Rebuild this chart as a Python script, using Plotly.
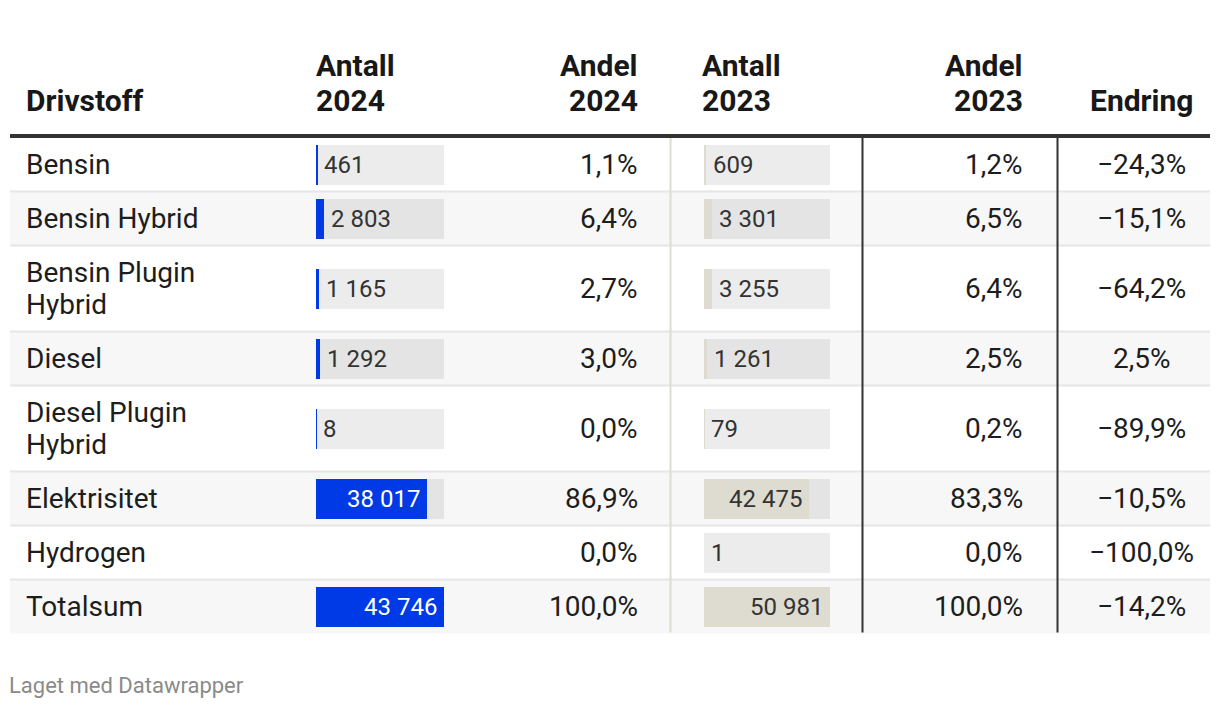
import plotly.graph_objects as go

# ---------------- data ----------------
fuel = ["Bensin", "Bensin Hybrid", "Bensin Plugin Hybrid", "Diesel",
        "Diesel Plugin Hybrid", "Elektrisitet", "Hydrogen", "Totalsum"]
antall_2024 = [461, 2803, 1165, 1292, 8, 38017, None, 43746]
andel_2024 = [1.1, 6.4, 2.7, 3.0, 0.0, 86.9, 0.0, 100.0]
antall_2023 = [609, 3301, 3255, 1261, 79, 42475, 1, 50981]
andel_2023 = [1.2, 6.5, 6.4, 2.5, 0.2, 83.3, 0.0, 100.0]
endring = [-24.3, -15.1, -64.2, 2.5, -89.9, -10.5, -100.0, -14.2]
headers = [["Drivstoff"], ["Antall", "2024"], ["Andel", "2024"],
           ["Antall", "2023"], ["Andel", "2023"], ["Endring"]]

# ---------------- style / layout ----------------
W, H = 1220, 708
FONT = "Roboto, Arial, sans-serif"
TXT = "#1d1d1d"
BLUE = "#0039e6"
BEIGE = "#dedbd1"
TRACK = "rgba(0,0,0,0.075)"
STRIPE = "#f7f7f7"
SEP = "#e6e6e6"
DARK = "#333333"

def wrap(name, maxlen=14):
    words, lines, cur = name.split(), [], ""
    for w in words:
        if cur and len(cur) + 1 + len(w) > maxlen:
            lines.append(cur)
            cur = w
        else:
            cur = (cur + " " + w).strip()
    lines.append(cur)
    return lines

def fmt_int(v):
    return f"{v:,}".replace(",", " ")

def fmt_pct(v):
    s = f"{abs(v):.1f}".replace(".", ",") + "%"
    return ("\u2212" + s) if (v < 0) else s

wrapped = [wrap(f) for f in fuel]
row_h = [54 if len(w) == 1 else 86 for w in wrapped]
top = 137.5
edges = [top]
for h in row_h:
    edges.append(edges[-1] + h)
centers = [(edges[i] + edges[i + 1]) / 2 for i in range(len(fuel))]

def px(x):
    return x / W

fig = go.Figure()

max24 = max(v for v in antall_2024 if v is not None)
max23 = max(v for v in antall_2023 if v is not None)

# tracks + bars
fig.add_trace(go.Bar(
    y=[c for c, v in zip(centers, antall_2024) if v is not None],
    x=[max24 for v in antall_2024 if v is not None],
    orientation="h", width=40, marker=dict(color=TRACK, line=dict(width=0)),
    xaxis="x", yaxis="y", hoverinfo="skip", showlegend=False))
fig.add_trace(go.Bar(
    y=[c for c, v in zip(centers, antall_2024) if v is not None],
    x=[v for v in antall_2024 if v is not None],
    orientation="h", width=40, marker=dict(color=BLUE, line=dict(width=0)),
    xaxis="x", yaxis="y", hoverinfo="skip", showlegend=False))
fig.add_trace(go.Bar(
    y=centers, x=[max23] * len(antall_2023),
    orientation="h", width=40, marker=dict(color=TRACK, line=dict(width=0)),
    xaxis="x2", yaxis="y", hoverinfo="skip", showlegend=False))
fig.add_trace(go.Bar(
    y=centers, x=antall_2023,
    orientation="h", width=40, marker=dict(color=BEIGE, line=dict(width=0)),
    xaxis="x2", yaxis="y", hoverinfo="skip", showlegend=False))

shapes = []
for i in range(len(fuel)):
    if i % 2 == 1:
        shapes.append(dict(type="rect", xref="paper", yref="y", x0=px(10), x1=px(1210),
                           y0=edges[i], y1=edges[i + 1], fillcolor=STRIPE,
                           line=dict(width=0), layer="below"))
for e in edges[1:-1]:
    shapes.append(dict(type="line", xref="paper", yref="y", x0=px(10), x1=px(1210),
                       y0=e, y1=e, line=dict(color=SEP, width=2), layer="below"))
for xv, col in [(670.5, BEIGE), (862.5, DARK), (1057.5, DARK)]:
    shapes.append(dict(type="line", xref="paper", yref="y", x0=px(xv), x1=px(xv),
                       y0=edges[0], y1=edges[-1] - 1, line=dict(color=col, width=2), layer="below"))
shapes.append(dict(type="line", xref="paper", yref="y", x0=px(10), x1=px(1210),
                   y0=136, y1=136, line=dict(color=DARK, width=4), layer="above"))

ann = []
HF = dict(family=FONT, size=30, color="#181818", weight="bold")
BF = dict(family=FONT, size=28, color=TXT)
LF = dict(family=FONT, size=24, color="#333333")

hpos = [(24, "left"), (314, "left"), (640, "right"), (700, "left"), (1025, "right"), (1141, "center")]
for hl, (hx, anc) in zip(headers, hpos):
    ys = [100] if len(hl) == 1 else [65, 100]
    for t, yy in zip(hl, ys):
        ann.append(dict(xref="paper", yref="y", x=px(hx), y=yy, text=f"<b>{t}</b>",
                        xanchor=anc, yanchor="middle", showarrow=False, font=HF))

for i in range(len(fuel)):
    c = centers[i]
    lines = wrapped[i]
    n = len(lines)
    for k, ln in enumerate(lines):
        yy = c + (k - (n - 1) / 2) * 32
        ann.append(dict(xref="paper", yref="y", x=px(24), y=yy, text=ln,
                        xanchor="left", yanchor="middle", showarrow=False, font=BF))
    ann.append(dict(xref="paper", yref="y", x=px(640), y=c, text=fmt_pct(andel_2024[i]),
                    xanchor="right", yanchor="middle", showarrow=False, font=BF))
    ann.append(dict(xref="paper", yref="y", x=px(1025), y=c, text=fmt_pct(andel_2023[i]),
                    xanchor="right", yanchor="middle", showarrow=False, font=BF))
    ann.append(dict(xref="paper", yref="y", x=px(1141.5), y=c, text=fmt_pct(endring[i]),
                    xanchor="center", yanchor="middle", showarrow=False, font=BF))
    for vals, mx, xr, inside_col in [(antall_2024, max24, "x", "#ffffff"),
                                     (antall_2023, max23, "x2", "#333333")]:
        v = vals[i]
        if v is None:
            continue
        if v / mx > 0.5:
            ann.append(dict(xref=xr, yref="y", x=v, y=c, text=fmt_int(v), xanchor="right",
                            xshift=-5, yanchor="middle", showarrow=False,
                            font=dict(family=FONT, size=24, color=inside_col)))
        else:
            ann.append(dict(xref=xr, yref="y", x=v, y=c, text=fmt_int(v), xanchor="left",
                            xshift=5, yanchor="middle", showarrow=False, font=LF))

ann.append(dict(xref="paper", yref="paper", x=px(7), y=1 - 685 / H, text="Laget med Datawrapper",
                xanchor="left", yanchor="middle", showarrow=False,
                font=dict(family=FONT, size=22, color="#8a8a8a")))

fig.update_layout(
    width=W, height=H, margin=dict(l=0, r=0, t=0, b=0),
    paper_bgcolor="white", plot_bgcolor="rgba(0,0,0,0)",
    barmode="overlay", bargap=0, showlegend=False,
    xaxis=dict(domain=[px(316), px(444)], range=[0, max24], visible=False, fixedrange=True),
    xaxis2=dict(domain=[px(704), px(830)], range=[0, max23], visible=False, fixedrange=True,
                anchor="y"),
    yaxis=dict(domain=[0, 1], range=[H, 0], visible=False, fixedrange=True),
    shapes=shapes, annotations=ann, font=dict(family=FONT),
)
fig.write_html("out.html", config={"displayModeBar": False},
               post_script="document.body.style.margin='0';document.body.style.overflow='hidden';")
